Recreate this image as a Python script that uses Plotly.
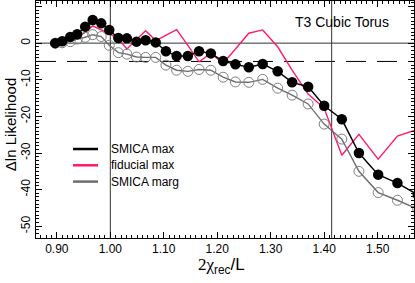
import plotly.graph_objects as go

# x grid (2 chi_rec / L)
x_vals = [0.897, 0.910, 0.925, 0.938, 0.953, 0.967, 0.983, 0.998, 1.015, 1.031,
          1.049, 1.066, 1.085, 1.104, 1.124, 1.145, 1.166, 1.188, 1.211, 1.234,
          1.259, 1.285, 1.313, 1.340, 1.370, 1.400, 1.433, 1.465, 1.501, 1.537, 1.575]

smica_max = [0.0, 0.5, 1.7, 2.4, 4.5, 6.3, 5.4, 3.6, 1.4, 1.3,
             0.4, 0.8, 0.2, -2.2, -3.5, -3.5, -2.2, -2.8, -4.9, -5.8,
             -6.6, -5.7, -7.7, -10.7, -11.9, -17.1, -20.8, -30.0, -35.9, -38.2, -41.4]

fiducial_max = [0.0, 0.7, 1.4, 1.7, 2.9, 4.7, 3.7, 2.6, 1.2, -1.6,
                1.0, 3.4, 0.7, 2.2, 3.7, -0.6, -5.1, -2.8, -5.5, -1.6,
                2.7, 3.6, -1.0, -7.4, -13.9, -17.8, -30.6, -24.9, -31.7, -25.4, -23.5]

smica_marg = [0.0, 0.1, 0.4, 1.1, 1.6, 2.3, 1.8, -0.6, -2.6, -3.0,
              -3.8, -3.9, -3.9, -6.0, -7.4, -7.7, -7.2, -7.4, -9.3, -10.6,
              -10.7, -9.9, -12.3, -14.2, -16.6, -22.1, -26.2, -35.0, -40.8, -42.9, -45.3]

series_names = ["SMICA max", "fiducial max", "SMICA marg"]
series_colors = ["#000000", "#ff1a6e", "#6e6e6e"]

x_ticks = [0.90, 1.00, 1.10, 1.20, 1.30, 1.40, 1.50]
x_ticklabels = ["0.90", "1.00", "1.10", "1.20", "1.30", "1.40", "1.50"]
y_ticks = [-50, -40, -30, -20, -10, 0, 10]
y_ticklabels = ["-50", "-40", "-30", "-20", "-10", "0", "10"]

ref_levels = [0, -5]          # horizontal reference lines (solid, dashed)
ref_x = [1.0, 1.414]          # vertical reference lines
x_range = [0.861, 1.568]
y_range = [-53.2, 11.5]

FONT = "Liberation Sans, Arial"

fig = go.Figure()

fig.add_trace(go.Scatter(x=x_vals, y=fiducial_max, mode="lines",
                         line=dict(color=series_colors[1], width=1.4),
                         showlegend=False))
fig.add_trace(go.Scatter(x=x_vals, y=smica_marg, mode="lines+markers",
                         line=dict(color=series_colors[2], width=1.4),
                         marker=dict(symbol="circle-open", size=10,
                                     color="#808080", line=dict(width=1)),
                         showlegend=False))
fig.add_trace(go.Scatter(x=x_vals, y=smica_max, mode="lines+markers",
                         line=dict(color=series_colors[0], width=1.4),
                         marker=dict(symbol="circle", size=10.5, color="#000000"),
                         showlegend=False))

# reference lines
fig.add_shape(type="line", xref="paper", x0=0, x1=1, yref="y",
              y0=ref_levels[0], y1=ref_levels[0],
              line=dict(color="#333333", width=1), layer="below")
fig.add_shape(type="line", xref="paper", x0=0, x1=1, yref="y",
              y0=ref_levels[1], y1=ref_levels[1],
              line=dict(color="#000000", width=1, dash="20px,11px"), layer="below")
for xv in ref_x:
    fig.add_shape(type="line", yref="paper", y0=0, y1=1, xref="x",
                  x0=xv, x1=xv, line=dict(color="#333333", width=1), layer="below")

# custom legend (line samples + labels)
leg_y = [0.3755, 0.3068, 0.238]
for name, col, ly in zip(series_names, series_colors, leg_y):
    fig.add_shape(type="line", xref="paper", yref="paper", x0=0.098, x1=0.164,
                  y0=ly, y1=ly, line=dict(color=col, width=2.5))
    fig.add_annotation(text=name, xref="paper", yref="paper", x=0.193, y=ly,
                       xanchor="left", yanchor="middle", showarrow=False,
                       font=dict(family=FONT, size=12, color="#000"))

fig.add_annotation(text="T3 Cubic Torus", xref="paper", yref="paper",
                   x=0.81, y=0.911, xanchor="center", yanchor="middle", showarrow=False,
                   font=dict(family=FONT, size=14, color="#000"))

# axis titles
fig.add_annotation(text='<span style="font-family:Liberation Serif">2χ</span><sub>rec</sub>/L',
                   xref="paper", yref="paper", x=0.492, y=-0.118,
                   xanchor="center", yanchor="middle", showarrow=False,
                   font=dict(family=FONT, size=17, color="#000"))
fig.add_annotation(text="Δln Likelihood", xref="paper", yref="paper",
                   x=-0.069, y=0.48, textangle=-90,
                   xanchor="center", yanchor="middle", showarrow=False,
                   font=dict(family=FONT, size=15, color="#000"))

axis_common = dict(showgrid=False, zeroline=False, showline=True,
                   linecolor="#000", linewidth=1, mirror="ticks", automargin=False,
                   ticks="inside", ticklen=6, tickcolor="#000", tickwidth=1,
                   tickfont=dict(family=FONT, size=12, color="#000"))

fig.update_xaxes(range=x_range, tickvals=x_ticks, ticktext=x_ticklabels,
                 minor=dict(dtick=0.01, ticks="inside", ticklen=3, tickcolor="#000"),
                 **axis_common)
fig.update_yaxes(range=y_range, tickvals=y_ticks, ticktext=y_ticklabels, tickangle=-90,
                 minor=dict(dtick=1, ticks="inside", ticklen=3, tickcolor="#000"),
                 **axis_common)

fig.update_layout(width=415, height=283,
                  margin=dict(l=36, r=1, t=1, b=45),
                  paper_bgcolor="white", plot_bgcolor="white",
                  showlegend=False, hovermode=False)

fig.write_html("out.html", config={"displayModeBar": False, "staticPlot": True},
               post_script="document.body.style.margin='0';document.body.style.overflow='hidden';")
